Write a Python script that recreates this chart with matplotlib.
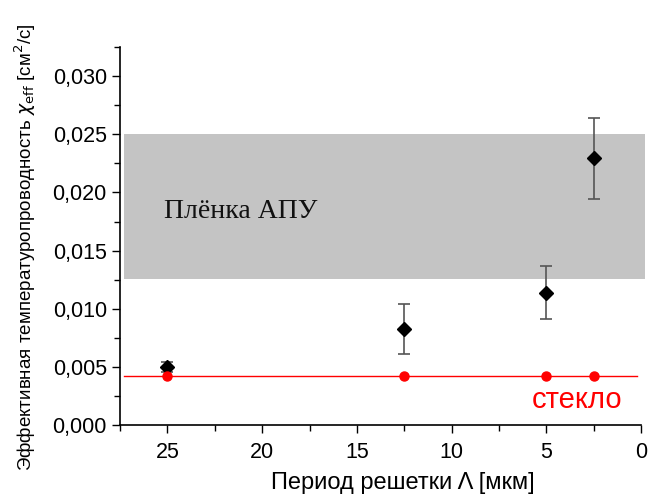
import matplotlib
matplotlib.use("Agg")
import matplotlib.pyplot as plt
from matplotlib.ticker import FuncFormatter, MultipleLocator

plt.rcParams['font.family'] = ['Liberation Sans', 'DejaVu Sans']

# Data
period = [25, 12.5, 5, 2.5]
chi_eff = [0.0050, 0.0083, 0.0114, 0.0230]
err_low = [0.0004, 0.0022, 0.0023, 0.0036]
err_high = [0.0004, 0.0021, 0.0023, 0.0034]
glass_x = [25, 12.5, 5, 2.5]
glass_y = [0.0042, 0.0042, 0.0042, 0.0042]
glass_level = 0.0042
film_band = (0.0126, 0.0250)

fig = plt.figure(figsize=(6.49, 4.95), dpi=100)
ax = fig.add_axes([0.185, 0.141, 0.803, 0.764])

ax.set_xlim(27.5, 0)
ax.set_ylim(0, 0.0325)

# gray band (film)
ax.fill_between([27.3, -0.2], film_band[0], film_band[1], color='#c4c4c4', lw=0, zorder=1, clip_on=False)
ax.text(25.2, 0.0184, 'Плёнка АПУ', family=['Liberation Serif'], fontsize=20, color='#111111',
        ha='left', va='center', zorder=3)

# glass line
ax.plot([27.3, 0.2], [glass_level, glass_level], color='red', lw=1, zorder=2)

ax.errorbar(period, chi_eff, yerr=[err_low, err_high], fmt='D', color='black', ms=7.5,
            ecolor='#555555', elinewidth=1.2, capsize=4, capthick=1.2, zorder=4)
ax.plot(glass_x, glass_y, 'o', color='red', ms=6.5, zorder=5)

ax.text(3.4, 0.0022, 'стекло', color='red', fontsize=21, ha='center', va='center')

for s in ['top', 'right']:
    ax.spines[s].set_visible(False)
ax.spines['left'].set_linewidth(1.2)
ax.spines['bottom'].set_linewidth(1.2)

ax.xaxis.set_major_locator(MultipleLocator(5))
ax.xaxis.set_minor_locator(MultipleLocator(2.5))
ax.yaxis.set_major_locator(MultipleLocator(0.005))
ax.yaxis.set_minor_locator(MultipleLocator(0.0025))
ax.yaxis.set_major_formatter(FuncFormatter(lambda v, p: f'{v:.3f}'.replace('.', ',')))
ax.tick_params(axis='both', which='major', labelsize=15.5, length=6, width=1, direction='out')
ax.tick_params(axis='both', which='minor', length=4, width=1, direction='out')
ax.tick_params(axis='x', which='major', pad=6)

ax.set_xlabel('Период решетки Λ [мкм]', fontsize=17)
ax.xaxis.set_label_coords(0.543, -0.125)
ax.set_ylabel(r'Эффективная температуропроводность $\chi_{\rm eff}$ [см$^2$/с]', fontsize=13.5)
ax.yaxis.set_label_coords(-0.158, 0.47)

fig.savefig('out.png', dpi=100)
